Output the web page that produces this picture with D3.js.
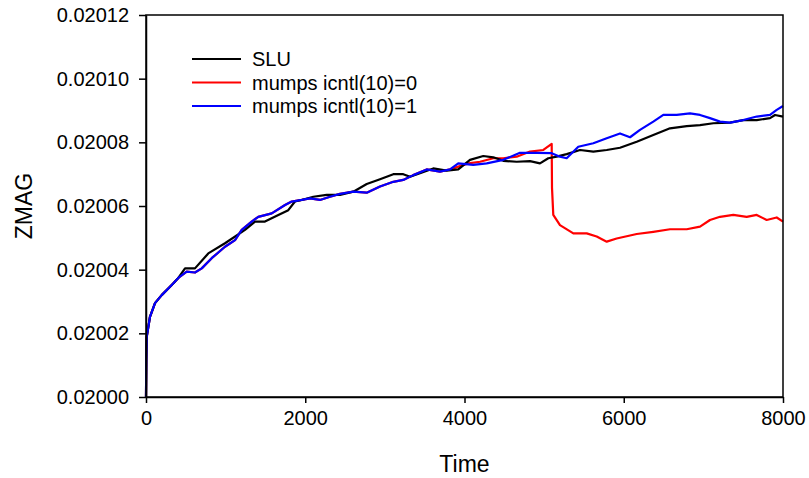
<!DOCTYPE html>
<html>
<head>
<meta charset="utf-8">
<script src="https://cdn.jsdelivr.net/npm/d3@7"></script>
<style>
  body { margin: 0; background: #fff; }
  svg { font-family: Arial, "Liberation Sans", sans-serif; }
</style>
</head>
<body>
<script>
// values: [time, zmag]

const seriesNames = ['SLU', 'mumps icntl(10)=0', 'mumps icntl(10)=1']
const xTicks = [0, 2000, 4000, 6000, 8000]
const yTicks = [0.02000, 0.02002, 0.02004, 0.02006, 0.02008, 0.02010, 0.02012]

const sluData = [
  [0, 0.020000], [4, 0.0200116], [9, 0.0200189], [50, 0.0200252], [113, 0.0200295],
  [197, 0.0200320], [323, 0.0200352], [406, 0.0200374], [490, 0.0200404], [615, 0.0200404],
  [782, 0.0200451], [992, 0.0200483], [1243, 0.0200525], [1369, 0.0200551], [1494, 0.0200551],
  [1662, 0.0200572], [1787, 0.0200587], [1871, 0.0200614], [1955, 0.0200619], [2101, 0.0200629],
  [2269, 0.0200635], [2436, 0.0200635], [2604, 0.0200645], [2772, 0.0200669], [2939, 0.0200684],
  [3106, 0.0200700], [3231, 0.0200700], [3316, 0.0200692], [3441, 0.0200703], [3608, 0.0200718],
  [3776, 0.0200711], [3922, 0.0200715], [4069, 0.0200745], [4236, 0.0200757], [4362, 0.0200753],
  [4487, 0.0200742], [4655, 0.0200739], [4823, 0.0200741], [4948, 0.0200734], [5052, 0.0200750],
  [5158, 0.0200755], [5283, 0.0200763], [5451, 0.0200776], [5618, 0.0200771], [5786, 0.0200776],
  [5953, 0.0200783], [6163, 0.0200802], [6371, 0.0200823], [6581, 0.0200844], [6791, 0.0200851],
  [6958, 0.0200854], [7125, 0.0200860], [7334, 0.0200862], [7501, 0.0200870], [7670, 0.0200870],
  [7837, 0.0200876], [7900, 0.0200886], [8000, 0.0200881]
]

const mumps0Data = [
  [0, 0.020000], [4, 0.0200116], [9, 0.0200189], [50, 0.0200252], [113, 0.0200295],
  [197, 0.0200320], [323, 0.0200352], [406, 0.0200374], [511, 0.0200394], [615, 0.0200391],
  [700, 0.0200404], [825, 0.0200436], [992, 0.0200472], [1118, 0.0200493], [1202, 0.0200525],
  [1327, 0.0200551], [1410, 0.0200566], [1579, 0.0200577], [1746, 0.0200603], [1830, 0.0200614],
  [1955, 0.0200619], [2060, 0.0200624], [2185, 0.0200619], [2311, 0.0200629], [2436, 0.0200638],
  [2604, 0.0200645], [2772, 0.0200642], [2939, 0.0200661], [3106, 0.0200676], [3231, 0.0200682],
  [3357, 0.0200697], [3525, 0.0200715], [3692, 0.0200708], [3818, 0.0200715], [4048, 0.0200734],
  [4195, 0.0200739], [4362, 0.0200750], [4487, 0.0200750], [4655, 0.0200755], [4823, 0.0200771],
  [4990, 0.0200776], [5095, 0.0200795], [5099, 0.0200657], [5115, 0.0200572], [5199, 0.0200540],
  [5367, 0.0200514], [5535, 0.0200514], [5660, 0.0200504], [5786, 0.0200488], [5911, 0.0200498],
  [6163, 0.0200512], [6371, 0.0200519], [6581, 0.0200527], [6791, 0.0200527], [6958, 0.0200535],
  [7083, 0.0200556], [7209, 0.0200566], [7376, 0.0200572], [7544, 0.0200566], [7670, 0.0200572],
  [7795, 0.0200556], [7921, 0.0200564], [8000, 0.0200551]
]

const mumps1Data = [
  [0, 0.020000], [4, 0.0200116], [9, 0.0200189], [50, 0.0200252], [113, 0.0200295],
  [197, 0.0200320], [323, 0.0200352], [406, 0.0200374], [511, 0.0200394], [615, 0.0200391],
  [700, 0.0200404], [825, 0.0200436], [992, 0.0200472], [1118, 0.0200493], [1202, 0.0200525],
  [1327, 0.0200551], [1410, 0.0200566], [1579, 0.0200577], [1746, 0.0200603], [1830, 0.0200614],
  [1955, 0.0200619], [2060, 0.0200624], [2185, 0.0200619], [2311, 0.0200629], [2436, 0.0200638],
  [2604, 0.0200645], [2772, 0.0200642], [2939, 0.0200661], [3106, 0.0200676], [3231, 0.0200682],
  [3357, 0.0200697], [3525, 0.0200715], [3692, 0.0200708], [3818, 0.0200715], [3922, 0.0200734],
  [4110, 0.0200729], [4279, 0.0200734], [4487, 0.0200745], [4697, 0.0200767], [4907, 0.0200767],
  [5095, 0.0200766], [5199, 0.0200755], [5283, 0.0200750], [5429, 0.0200786], [5618, 0.0200797],
  [5786, 0.0200813], [5953, 0.0200828], [6079, 0.0200816], [6204, 0.0200839], [6371, 0.0200865],
  [6497, 0.0200886], [6665, 0.0200886], [6832, 0.0200891], [6958, 0.0200886], [7083, 0.0200876],
  [7209, 0.0200865], [7334, 0.0200862], [7501, 0.0200870], [7670, 0.0200881], [7837, 0.0200886],
  [7921, 0.0200902], [8000, 0.0200914]
]

class LineChart {
  constructor (props) {
    this.width = 809
    this.height = 478
    this.margin = { top: 15, left: 146, bottom: 81, right: 26 }
    this.colors = ['#000000', '#ff0000', '#0000ff']
    this.series = []
    this.el = 'body'
    Object.assign(this, props)
  }

  prepareScales () {
    this.innerWidth = this.width - this.margin.left - this.margin.right
    this.innerHeight = this.height - this.margin.top - this.margin.bottom
    this.x = d3.scaleLinear().domain([0, 8000]).range([0, this.innerWidth])
    this.y = d3.scaleLinear().domain([0.02000, 0.02012]).range([this.innerHeight, 0])
    this.xAxis = d3.axisBottom(this.x).tickValues(xTicks).tickFormat(d3.format('d'))
      .tickSizeInner(6).tickSizeOuter(0).tickPadding(8)
    this.yAxis = d3.axisLeft(this.y).tickValues(yTicks).tickFormat(d3.format('.5f'))
      .tickSizeInner(7).tickSizeOuter(0).tickPadding(10)
  }

  appendSvg () {
    this.svg = d3.select(this.el).append('svg')
      .attr('width', this.width)
      .attr('height', this.height)
      .append('g')
      .attr('transform', `translate(${this.margin.left}, ${this.margin.top})`)
  }

  draw () {
    this.prepareScales()
    this.appendSvg()

    const line = d3.line()
      .x((d) => this.x(d[0]))
      .y((d) => this.y(d[1]))

    // red first so the blue one covers it where they coincide
    const order = [1, 0, 2]
    this.svg.selectAll('.series')
      .data(order)
      .enter()
      .append('path')
      .attr('class', 'series')
      .attr('fill', 'none')
      .attr('stroke', (i) => this.colors[i])
      .attr('stroke-width', 2.2)
      .attr('stroke-linejoin', 'round')
      .attr('d', (i) => line(this.series[i]))

    // frame
    this.svg.append('rect')
      .attr('width', this.innerWidth)
      .attr('height', this.innerHeight)
      .attr('fill', 'none')
      .attr('stroke', '#000')
      .attr('stroke-width', 1.5)

    const xg = this.svg.append('g')
      .attr('transform', `translate(0, ${this.innerHeight})`)
      .call(this.xAxis)
    const yg = this.svg.append('g')
      .call(this.yAxis)

    ;[xg, yg].forEach((g) => {
      g.select('.domain').attr('stroke-width', 1.5)
      g.selectAll('.tick line').attr('stroke-width', 1.5)
      g.selectAll('.tick text').attr('font-size', 20).attr('fill', '#000')
      g.attr('font-family', null)
    })

    this.svg.append('text')
      .attr('x', this.innerWidth / 2)
      .attr('y', this.innerHeight + 75)
      .attr('text-anchor', 'middle')
      .attr('font-size', 23)
      .text('Time')

    this.svg.append('text')
      .attr('transform', `translate(${-114}, ${this.innerHeight / 2}) rotate(-90)`)
      .attr('text-anchor', 'middle')
      .attr('font-size', 23)
      .text('ZMAG')

    const legend = this.svg.selectAll('.legend')
      .data(seriesNames)
      .enter().append('g')
      .attr('class', 'legend')
      .attr('transform', (d, i) => `translate(46, ${44 + i * 23.5})`)

    legend.append('line')
      .attr('x1', 0)
      .attr('x2', 49)
      .attr('stroke', (d, i) => this.colors[i])
      .attr('stroke-width', 2.2)

    legend.append('text')
      .attr('x', 60)
      .attr('dy', '.35em')
      .attr('font-size', 20)
      .text((d) => d)
  }
}

const c = new LineChart({
  series: [sluData, mumps0Data, mumps1Data]
})
c.draw()
</script>
</body>
</html>
